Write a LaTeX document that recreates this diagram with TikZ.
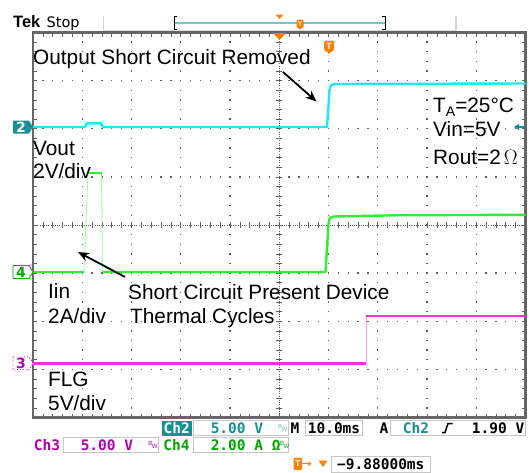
\documentclass[tikz,border=0pt]{standalone}
\usepackage{fontspec}
\setmainfont{Liberation Sans}
\newfontfamily\tekfont{DejaVu Sans Mono}
\newfontfamily\tagfont{DejaVu Sans}
\usetikzlibrary{arrows.meta}

\definecolor{chtwo}{RGB}{30,232,250}
\definecolor{chtwodark}{RGB}{20,145,150}
\definecolor{chtwobar}{RGB}{110,200,200}
\definecolor{chfour}{RGB}{50,238,50}
\definecolor{chfourlight}{RGB}{150,255,150}
\definecolor{chfourdark}{RGB}{0,165,0}
\definecolor{chthree}{RGB}{255,45,215}
\definecolor{chthreelight}{RGB}{255,160,240}
\definecolor{chthreedark}{RGB}{175,0,175}
\definecolor{tekorange}{RGB}{255,125,0}
\definecolor{gridgray}{RGB}{95,95,95}

% graticule corners and divisions
\def\xa{33}
\def\xb{525.5}
\def\ya{32.5}
\def\yb{417.5}
\def\divx{49.25}
\def\divy{48.125}

\begin{document}
\begin{tikzpicture}[x=1pt,y=-1pt,
  note/.style={font=\fontsize{20.8}{25}\selectfont, anchor=base west, inner sep=0pt},
  tek/.style={font=\tekfont\bfseries\fontsize{14.5}{14.5}\selectfont, inner sep=0pt},
  readout/.style={draw=gray!45, line width=0.9pt, inner sep=0pt, minimum height=15pt},
  bwmark/.style={font=\fontsize{6}{6}\selectfont, inner sep=0pt},
  tag/.style={font=\tagfont\bfseries\fontsize{14}{14}\selectfont, inner sep=0pt},
  trace/.style={line width=2.4pt, line join=round},
  edge/.style={line width=0.8pt},
  tick/.style={gridgray, line width=0.7pt},
  callout/.style={line width=1.8pt, -{Stealth[length=11pt,width=9pt]}}]

\useasboundingbox (0,0) rectangle (529,472);
\fill[white] (0,0) rectangle (529,472);

% top status bar
\node[font=\bfseries\fontsize{16.5}{16.5}\selectfont, anchor=base west, inner sep=0pt] (tek) at (13,27.3) {Tek};
\node[font=\tagfont\fontsize{14.5}{14.5}\selectfont, anchor=base west, inner sep=0pt] (stop) at (46.5,27.3) {Stop};
\draw[gray!35, line width=1.5pt] (103.3,15.7) -- (103.3,30) (456,15.7) -- (456,30);
\draw[gray!30, line width=1pt] (103.3,30) -- (456,30);
\draw[chtwobar, line width=1.6pt] (174,22.7) -- (385,22.7);
\draw[line width=1pt] (177,16.5) -- (174,16.5) -- (174,29.3) -- (177,29.3);
\draw[line width=1pt] (382,16.5) -- (385,16.5) -- (385,29.3) -- (382,29.3);
\fill[tekorange] (275.5,14.5) -- (283.5,14.5) -- (279.5,19) -- cycle;
\fill[tekorange, rounded corners=1.2pt] (296.5,19.5) rectangle (303.5,27.5);
\fill[tekorange] (296.5,27) -- (303.5,27) -- (300,29.5) -- cycle;
\node[font=\bfseries\fontsize{6.5}{6.5}\selectfont, text=white, inner sep=0pt] (barT) at (300,23.8) {T};

% graticule dots
\foreach \i in {1,2,3,4,6,7,8,9}
  \foreach \j in {1,...,39}
    \fill[gridgray] ({\xa+\i*\divx-0.65},{\ya+\j*\divy/5-0.65}) rectangle +(1.3,1.3);
\foreach \i in {1,2,3,5,6,7}
  \foreach \j in {1,...,49}
    \fill[gridgray] ({\xa+\j*\divx/5-0.65},{\ya+\i*\divy-0.65}) rectangle +(1.3,1.3);

% centre lines and border ticks
\draw[gridgray, line width=0.8pt, dash pattern=on 1pt off 1.2pt] (\xa,225) -- (\xb,225);
\draw[gridgray, line width=0.8pt, dash pattern=on 1pt off 1.2pt] (279.25,\ya) -- (279.25,\yb);
\foreach \j in {1,...,49} {
  \draw[tick] ({\xa+\j*\divx/5},\ya) -- ++(0,4);
  \draw[tick] ({\xa+\j*\divx/5},\yb) -- ++(0,-4);
  \draw[tick] ({\xa+\j*\divx/5},222) -- ++(0,6);
}
\foreach \j in {1,...,39} {
  \draw[tick] (\xa,{\ya+\j*\divy/5}) -- ++(4,0);
  \draw[tick] (\xb,{\ya+\j*\divy/5}) -- ++(-4,0);
  \draw[tick] (276.25,{\ya+\j*\divy/5}) -- ++(6,0);
}
\draw[gray!80!black, line width=2.2pt] (\xa,\ya) rectangle (\xb,\yb);

% trigger position marks
\fill[tekorange] (273,33) -- (286,33) -- (279.5,40) -- cycle;
\fill[tekorange, rounded corners=1.5pt] (324,40.5) rectangle (334,50.5);
\fill[tekorange] (324,50) -- (334,50) -- (329,53.5) -- cycle;
\node[font=\bfseries\fontsize{9}{9}\selectfont, text=white, inner sep=0pt] (plotT) at (329,46) {T};

% Ch2 output voltage
\draw[trace, chtwo] (\xa,127) -- (85,127) -- (87,123.3) -- (101,123.3) -- (103,127) -- (327,127)
  -- (329.5,91) .. controls (330.5,85) .. (335,84) -- (\xb,83.5);
% Ch4 input current
\draw[trace, chfour] (\xa,272) -- (84,272);
\draw[edge, chfourlight] (84,272) -- (88,172.7) (101.5,172.7) -- (102.5,272);
\draw[trace, chfour] (88,172.7) -- (101.5,172.7);
\draw[trace, chfour] (102.5,272) -- (325.5,272) -- (328.5,224) .. controls (329.5,217.5) .. (334,216.5)
  -- (400,215.2) -- (\xb,214.8);
% Ch3 flag
\draw[trace, chthree] (\xa,363.3) -- (366,363.3);
\draw[edge, chthreelight] (366,363.3) -- (366,316);
\draw[trace, chthree] (366,316) -- (\xb,316);

% channel ground markers
\fill[chtwodark] (13,120.5) -- (29,120.5) -- (33,127) -- (29,133.5) -- (13,133.5) -- cycle;
\node[tag, text=white] (marktwo) at (21,127.3) {2};
\draw[chfourdark, fill=white, line width=0.8pt] (13,265.5) -- (29,265.5) -- (33,272) -- (29,278.5) -- (13,278.5) -- cycle;
\node[tag, text=chfourdark] (markfour) at (21,272.3) {4};
\draw[chthreedark, fill=white, line width=0.8pt, dotted] (13,357) -- (29,357) -- (33,363.3) -- (29,369.6) -- (13,369.6) -- cycle;
\node[tag, text=chthreedark] (markthree) at (21,363.6) {3};
\draw[chtwodark, line width=1.2pt, -{Triangle[length=5pt,width=6pt]}] (525,127) -- (514,127);

% annotations
\node[note] (removed) at (33,64) {Output Short Circuit Removed};
\node[note] (tempnote) at (433,112.7) {T\raisebox{-4pt}{\fontsize{14}{14}\selectfont A}=25°C};
\node[note] (vinnote) at (433,136.7) {Vin=5V};
\node[note] (routnote) at (433,164) {Rout=2\kern3pt$\Omega$};
\node[note] (vout) at (33,155) {Vout};
\node[note] (voutdiv) at (33,178.5) {2V/div};
\node[note] (iin) at (48,298.5) {Iin};
\node[note] (iindiv) at (48,323.5) {2A/div};
\node[note] (present) at (128,299) {Short Circuit Present Device};
\node[note] (cycles) at (130,323.5) {Thermal Cycles};
\node[note] (flg) at (48,386.7) {FLG};
\node[note] (flgdiv) at (48,410) {5V/div};

\coordinate (remtail) at (283,72);
\coordinate (remtip) at (316.5,101.5);
\coordinate (cyctail) at (125,277);
\coordinate (cyctip) at (78,252);
\draw[callout] (remtail) -- (remtip);
\draw[callout] (cyctail) -- (cyctip);

% readout panel, first row
\node[fill=chtwodark, minimum width=30pt, minimum height=15pt, inner sep=0pt] (chtwotag) at (176.7,428.3) {};
\node[tek, text=white] (chtwotagtext) at (chtwotag) {Ch2};
\node[readout, minimum width=95pt] (scaletwo) at (240.8,428.3) {};
\node[tek, text=chtwodark, anchor=west] (scaletwotext) at ([xshift=17.7pt]scaletwo.west) {5.00 V};
\node[bwmark, text=chtwodark!60] (bwtwo) at ([xshift=-6pt]scaletwo.east) {\raisebox{3pt}{B}\kern-0.5pt W};
\node[tek] (mlabel) at (295,428.3) {M};
\node[readout, minimum width=57.4pt] (timebase) at (334,428.3) {};
\node[tek] (timetext) at (timebase) {10.0ms};
\node[tek] (alabel) at (384,428.3) {A};
\node[readout, minimum width=134.8pt] (trigbox) at (458.1,428.3) {};
\node[tek, text=chtwodark, anchor=west] (trigsrc) at ([xshift=12.5pt]trigbox.west) {Ch2};
\draw[line width=1.5pt] (442,432.5) -- (445,432.5) -- (448,423.5) -- (452.5,423.5);
\node[tek, anchor=east] (triglevel) at ([xshift=-1.5pt]trigbox.east) {1.90 V};

% readout panel, second row
\node[tek, text=chthreedark] (chthreetag) at (47,445.3) {Ch3};
\node[readout, minimum width=95.2pt] (scalethree) at (111,445.3) {};
\node[tek, text=chthreedark, anchor=west] (scalethreetext) at ([xshift=17.6pt]scalethree.west) {5.00 V};
\node[bwmark, text=chthreedark] (bwthree) at ([xshift=-6pt]scalethree.east) {\raisebox{3pt}{B}\kern-0.5pt W};
\node[tek, text=chfourdark] (chfourtag) at (176.5,445.3) {Ch4};
\node[readout, minimum width=95pt] (scalefour) at (240.8,445.3) {};
\node[tek, text=chfourdark, anchor=west] (scalefourtext) at ([xshift=17.7pt]scalefour.west) {2.00 A Ω};
\node[bwmark, text=chfourdark] (bwfour) at ([xshift=-4pt]scalefour.east) {\raisebox{3pt}{B}\kern-0.5pt W};

% readout panel, third row
\node[fill=tekorange, minimum width=8.5pt, minimum height=12pt, inner sep=0pt, rounded corners=1pt] (poststag) at (297.8,463.8) {};
\node[font=\bfseries\fontsize{9}{9}\selectfont, text=white, inner sep=0pt] (postT) at (poststag) {T};
\draw[tekorange, line width=1pt, -{Triangle[length=3.5pt,width=4pt]}] (poststag.east) -- ++(9.5,0);
\fill[tekorange] (318.5,460.5) -- (327.5,460.5) -- (323,467) -- cycle;
\node[readout, minimum width=98.4pt, minimum height=16pt] (posbox) at (380.8,464) {};
\node[tek] (postext) at (posbox) {−9.88000ms};

\end{tikzpicture}
\end{document}
